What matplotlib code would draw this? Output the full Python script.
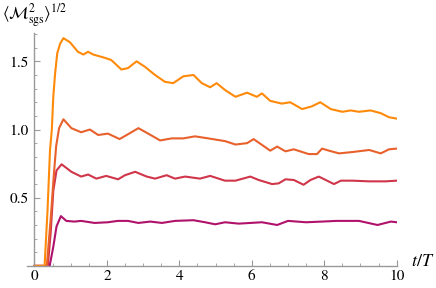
import matplotlib
matplotlib.use("Agg")
import matplotlib.pyplot as plt
from matplotlib.ticker import MultipleLocator, FixedLocator

plt.rcParams['font.family'] = ['STIXGeneral', 'DejaVu Serif']
plt.rcParams['mathtext.fontset'] = 'stix'

# Curve 1 (orange, top)
t1 = [0, 0.28, 0.36, 0.43, 0.48, 0.52, 0.57, 0.63, 0.71, 0.80, 0.98, 1.2, 1.35, 1.48, 1.62, 1.89,
      2.12, 2.4, 2.58, 2.82, 3.05, 3.33, 3.6, 3.83, 4.11, 4.39, 4.62, 4.85, 5.03, 5.26, 5.55, 5.87,
      6.14, 6.28, 6.51, 6.83, 7.06, 7.39, 7.66, 7.89, 8.18, 8.5, 8.73, 8.96, 9.28, 9.56, 9.79, 10.0]
v1 = [0, 0, 0.4, 0.85, 1.0, 1.24, 1.41, 1.56, 1.63, 1.67, 1.64, 1.57, 1.55, 1.57, 1.55, 1.53,
      1.51, 1.44, 1.45, 1.50, 1.46, 1.40, 1.35, 1.34, 1.39, 1.40, 1.34, 1.31, 1.34, 1.29, 1.24, 1.27,
      1.24, 1.265, 1.21, 1.19, 1.20, 1.15, 1.17, 1.20, 1.15, 1.13, 1.14, 1.13, 1.14, 1.12, 1.09, 1.08]

# Curve 2 (orange-red)
t2 = [0, 0.34, 0.45, 0.53, 0.60, 0.68, 0.80, 1.02, 1.29, 1.53, 1.76, 2.03, 2.35, 2.58, 2.87, 3.14,
      3.47, 3.79, 4.11, 4.43, 4.8, 5.26, 5.55, 5.87, 6.05, 6.51, 6.7, 6.93, 7.16, 7.57, 7.8, 7.94,
      8.13, 8.41, 8.78, 9.24, 9.56, 9.79, 10.0]
v2 = [0, 0, 0.35, 0.65, 0.88, 1.01, 1.075, 1.01, 0.98, 1.0, 0.96, 0.97, 0.93, 0.965, 1.01, 0.97,
      0.92, 0.935, 0.935, 0.95, 0.935, 0.915, 0.89, 0.90, 0.93, 0.845, 0.875, 0.84, 0.855, 0.82, 0.82, 0.86,
      0.845, 0.825, 0.835, 0.85, 0.825, 0.855, 0.86]

# Curve 3 (crimson)
t3 = [0, 0.37, 0.45, 0.52, 0.61, 0.75, 1.02, 1.29, 1.48, 1.71, 1.98, 2.31, 2.5, 2.78, 3.1, 3.33,
      3.65, 3.88, 4.16, 4.57, 4.85, 5.26, 5.55, 5.96, 6.19, 6.56, 6.74, 6.93, 7.16, 7.43, 7.62, 7.85,
      8.04, 8.27, 8.46, 8.78, 9.24, 9.7, 10.0]
v3 = [0, 0, 0.25, 0.55, 0.70, 0.745, 0.69, 0.655, 0.67, 0.64, 0.66, 0.635, 0.665, 0.69, 0.655, 0.64,
      0.665, 0.64, 0.655, 0.64, 0.66, 0.625, 0.625, 0.655, 0.63, 0.60, 0.605, 0.635, 0.63, 0.595, 0.63, 0.655,
      0.63, 0.60, 0.625, 0.625, 0.62, 0.62, 0.625]

# Curve 4 (magenta, bottom)
t4 = [0, 0.42, 0.52, 0.61, 0.73, 0.88, 1.1, 1.29, 1.66, 2.03, 2.3, 2.58, 2.87, 3.2, 3.52, 3.88,
      4.39, 4.71, 4.99, 5.26, 5.64, 6.28, 6.7, 7.0, 7.5, 7.94, 8.33, 8.96, 9.47, 9.84, 10.0]
v4 = [0, 0, 0.14, 0.29, 0.365, 0.33, 0.325, 0.33, 0.315, 0.32, 0.33, 0.33, 0.315, 0.325, 0.315, 0.33,
      0.335, 0.32, 0.305, 0.32, 0.31, 0.32, 0.30, 0.33, 0.32, 0.325, 0.33, 0.33, 0.30, 0.325, 0.32]

colors = ['#FF8A0A', '#E8612C', '#D0354A', '#B0126B']
xticks = [0, 2, 4, 6, 8, 10]
yticks = [0.5, 1.0, 1.5]
ytick_labels = ['0.5', '1.0', '1.5']

fig = plt.figure(figsize=(4.36, 2.88), dpi=100)
ax = fig.add_axes([27.2 / 436, (288 - 265.9) / 288, 370.2 / 436, 233.2 / 288])

for t, v, c in zip([t4, t3, t2, t1], [v4, v3, v2, v1], colors[::-1]):
    ax.plot(t, v, color=c, lw=1.5, solid_joinstyle='round')

ax.set_xlim(-0.2, 10.02)
ax.set_ylim(0, 1.71)

for s in ['top', 'right']:
    ax.spines[s].set_visible(False)
ax.spines['left'].set_position(('data', 0))
for s in ['left', 'bottom']:
    ax.spines[s].set_color('#999999')
    ax.spines[s].set_linewidth(1.0)

ax.xaxis.set_major_locator(FixedLocator(xticks))
ax.xaxis.set_minor_locator(MultipleLocator(0.5))
ax.yaxis.set_major_locator(FixedLocator(yticks))
ax.set_yticklabels(ytick_labels)
ax.yaxis.set_minor_locator(MultipleLocator(0.1))

ax.tick_params(which='both', direction='in', color='#999999', labelsize=11, labelcolor='black')
ax.tick_params(which='major', length=4, width=0.8)
ax.tick_params(which='minor', length=2.5, width=0.6)
ax.tick_params(axis='x', pad=3)
ax.tick_params(axis='y', pad=4)

fig.text(0.943, (288 - 262) / 288, r'$t/T$', fontsize=13, va='center', ha='left')
fig.text(0.005, 0.995, r'$\langle\mathcal{M}^2_{\mathrm{sgs}}\rangle^{1/2}$', fontsize=12,
         va='top', ha='left')

fig.savefig('out.png', dpi=100)
